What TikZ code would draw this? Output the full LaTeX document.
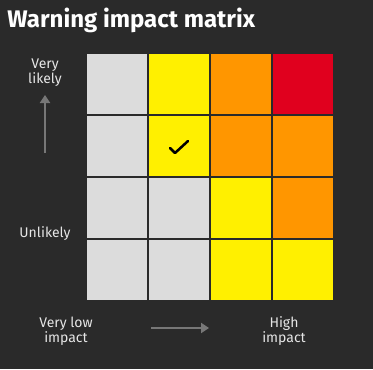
\documentclass[tikz,border=0pt]{standalone}
\usepackage{fontspec}
\setmainfont{Fira Sans}
\usetikzlibrary{arrows.meta}
\definecolor{bg}{HTML}{2A2A2A}
\definecolor{cgrey}{HTML}{DCDCDC}
\definecolor{cyellow}{HTML}{FFF000}
\definecolor{corange}{HTML}{FF9600}
\definecolor{cred}{HTML}{E0001E}
\definecolor{ctext}{HTML}{E6E6E6}
\definecolor{carrow}{HTML}{777777}
\tikzset{
  cell/.style={rectangle, minimum width=45pt, minimum height=45pt, inner sep=0pt, draw=none},
  lbl/.style={align=center, text=ctext, font=\fontsize{10.5pt}{11.3pt}\selectfont, inner sep=0pt},
  axisarrow/.style={draw=carrow, line width=1.5pt, -{Triangle[width=7.5pt,length=6pt]}},
}
\begin{document}
\begin{tikzpicture}[x=0.75pt,y=-0.75pt]
\fill[bg] (0,0) rectangle (373,369);
\useasboundingbox (0,0) rectangle (373,369);
\node[anchor=base west, text=white, font=\fontsize{18pt}{20pt}\selectfont\bfseries, inner sep=0pt] (title) at (7,27) {Warning impact matrix};
% row 1
\node[cell, fill=cgrey]   (c11) at (117,84) {};
\node[cell, fill=cyellow] (c12) at (179,84) {};
\node[cell, fill=corange] (c13) at (241,84) {};
\node[cell, fill=cred]    (c14) at (303,84) {};
% row 2
\node[cell, fill=cgrey]   (c21) at (117,146) {};
\node[cell, fill=cyellow] (c22) at (179,146) {};
\node[cell, fill=corange] (c23) at (241,146) {};
\node[cell, fill=corange] (c24) at (303,146) {};
% row 3
\node[cell, fill=cgrey]   (c31) at (117,208) {};
\node[cell, fill=cgrey]   (c32) at (179,208) {};
\node[cell, fill=cyellow] (c33) at (241,208) {};
\node[cell, fill=corange] (c34) at (303,208) {};
% row 4
\node[cell, fill=cgrey]   (c41) at (117,270) {};
\node[cell, fill=cgrey]   (c42) at (179,270) {};
\node[cell, fill=cyellow] (c43) at (241,270) {};
\node[cell, fill=cyellow] (c44) at (303,270) {};
% check mark
\draw[black, line width=1.9pt, line cap=round, line join=round]
  ([shift={(-9,2)}]c22.center) -- ([shift={(-4,7)}]c22.center) -- ([shift={(9,-5)}]c22.center);
% labels
\node[lbl] (vlikely) at (45,73) {Very\\likely};
\node[lbl] (unlikely) at (45,234) {Unlikely};
\node[lbl] (vlow) at (66,331) {Very low\\impact};
\node[lbl] (high) at (284,331) {High\\impact};
% arrows
\coordinate (up0) at (45,153);
\coordinate (up1) at (45,95);
\coordinate (rt0) at (151,328);
\coordinate (rt1) at (209,328);
\draw[axisarrow] (up0) -- (up1);
\draw[axisarrow] (rt0) -- (rt1);
\end{tikzpicture}
\end{document}
